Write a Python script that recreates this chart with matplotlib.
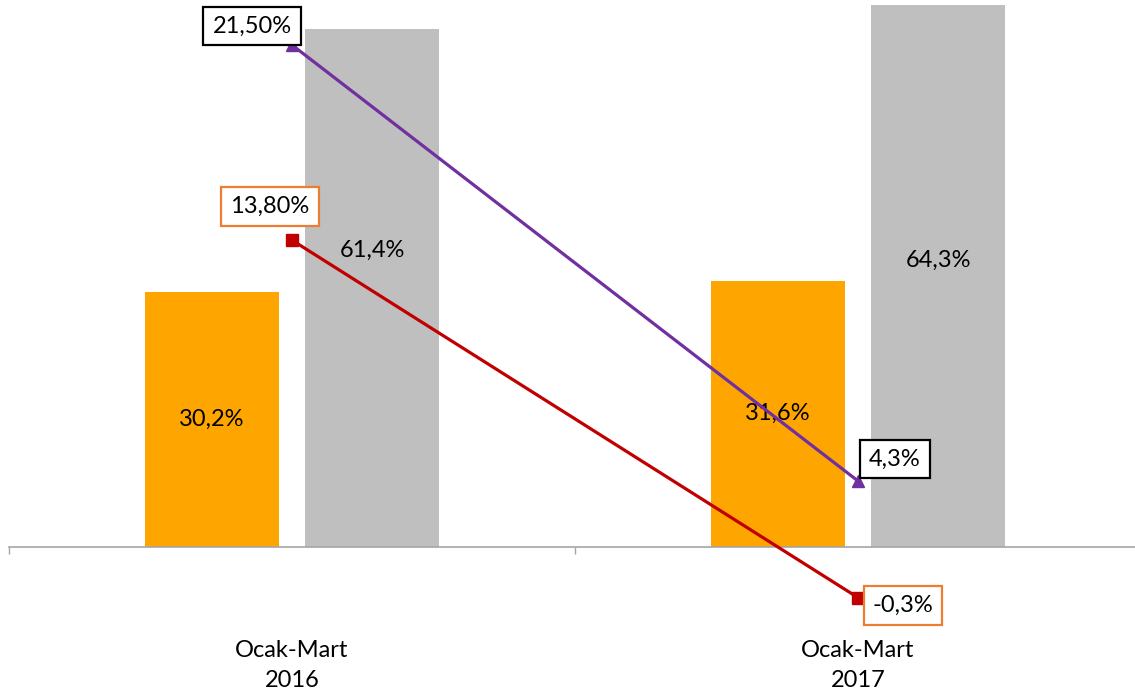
import numpy as np
import matplotlib
matplotlib.use("Agg")
import matplotlib.pyplot as plt

plt.rcParams['font.family'] = ['Lato', 'DejaVu Sans']

categories = ["Ocak-Mart\n2016", "Ocak-Mart\n2017"]
orange_vals = [30.2, 31.6]
gray_vals = [61.4, 64.3]
purple_vals = [21.5, 4.3]
red_vals = [13.8, -0.3]
orange_labels = ["30,2%", "31,6%"]
gray_labels = ["61,4%", "64,3%"]
purple_labels = ["21,50%", "4,3%"]
red_labels = ["13,80%", "-0,3%"]

W, H = 1135, 694
fig = plt.figure(figsize=(W / 100, H / 100), dpi=100)
ax = fig.add_axes([9 / W, 0, 1132 / W, 1])
ax2 = ax.twinx()

x = np.arange(len(categories))
bw = 0.237
off = 0.142
fs = 17

ax.bar(x - off, orange_vals, bw, color="#FFA500", zorder=2)
ax.bar(x + off, gray_vals, bw, color="#BFBFBF", zorder=2)

# bar labels (gray ones sit a bit above the middle, like in the original)
gray_label_y = [35.2, 34.0]
for i in x:
    ax.text(i - off, orange_vals[i] / 2, orange_labels[i], ha="center", va="center", fontsize=fs)
    ax.text(i + off, gray_label_y[i], gray_labels[i], ha="center", va="center", fontsize=fs)

ax.set_xlim(-0.5, 1.5)
ax.set_ylim(-147 / 8.43, 547 / 8.43)
ax2.set_ylim(-104 / 25.35, 590 / 25.35)

for s in ["top", "right", "left"]:
    ax.spines[s].set_visible(False)
    ax2.spines[s].set_visible(False)
ax2.spines["bottom"].set_visible(False)
ax.spines["bottom"].set_position(("data", 0))
ax.spines["bottom"].set_color("#A6A6A6")
ax.spines["bottom"].set_linewidth(1.2)
ax.set_yticks([])
ax2.set_yticks([])
ax.set_xticks(x)
ax.set_xticklabels(categories, fontsize=fs, linespacing=1.5)
ax.set_xticks([-0.5, 0.5, 1.5], minor=True)
ax.tick_params(axis="x", which="major", length=0, pad=67)
ax.tick_params(axis="x", which="minor", length=5, color="#A6A6A6", width=1)

ax2.plot(x, purple_vals, color="#7030A0", lw=2.3, marker="^", ms=9, zorder=3)
ax2.plot(x, red_vals, color="#C00000", lw=2.3, marker="s", ms=8, zorder=3)

purple_offs = [(-40, 19), (37, 22)]
red_offs = [(-22, 34), (45, -8)]
for i in x:
    ax2.annotate(purple_labels[i], (x[i], purple_vals[i]), xytext=purple_offs[i],
                 textcoords="offset pixels", ha="center", va="center", fontsize=fs, zorder=5,
                 bbox=dict(boxstyle="square,pad=0.38", fc="white", ec="black", lw=1.6))
    ax2.annotate(red_labels[i], (x[i], red_vals[i]), xytext=red_offs[i],
                 textcoords="offset pixels", ha="center", va="center", fontsize=fs, zorder=5,
                 bbox=dict(boxstyle="square,pad=0.38", fc="white", ec="#ED7D31", lw=1.6))

fig.savefig("out.png", dpi=100)
